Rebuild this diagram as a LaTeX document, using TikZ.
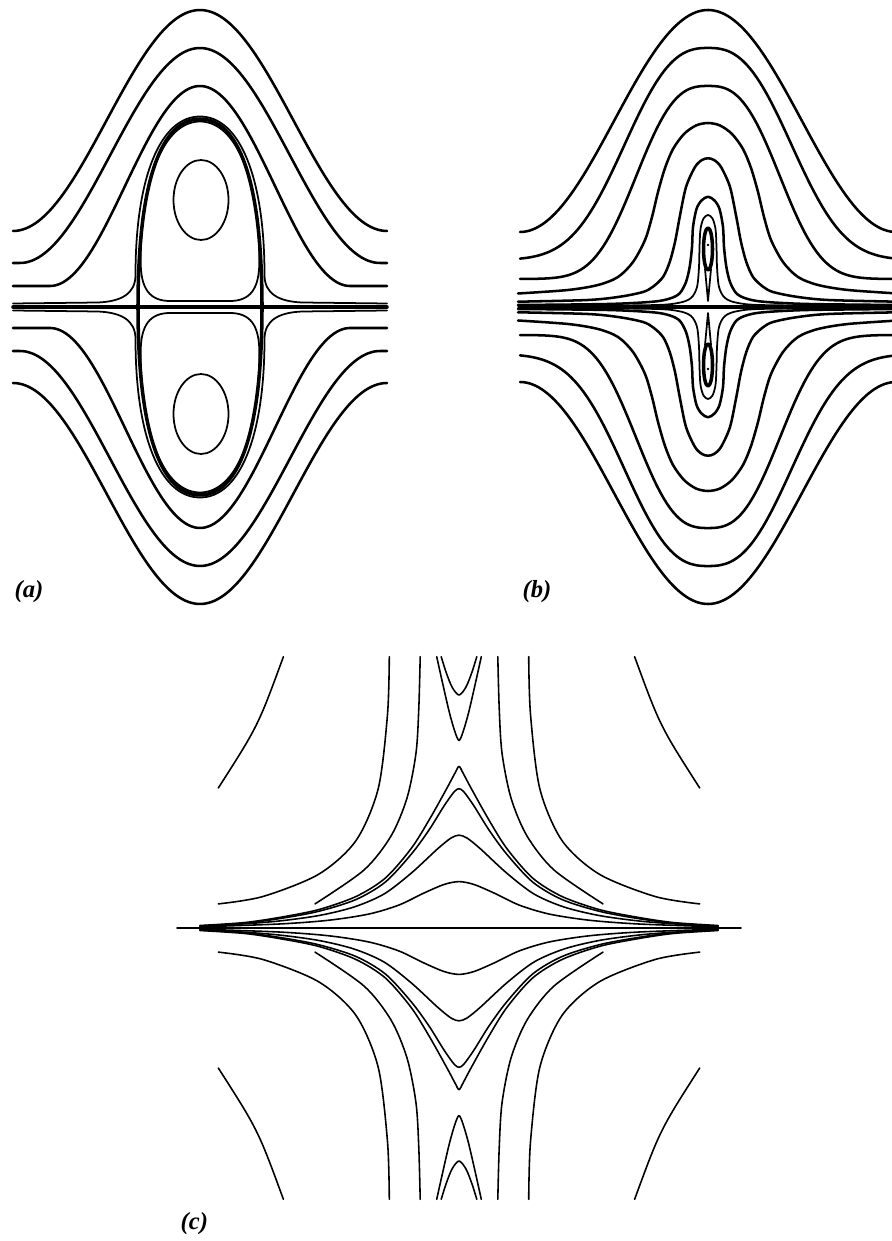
\documentclass[tikz,border=0pt]{standalone}
\usepackage{fontspec}
\setmainfont{Liberation Serif}
\tikzset{
 declare function={
   cbump(\xx,\LL)=(abs(\xx)<\LL)*(1+cos((180/(\LL))*(\xx)))/2;
   sgbump(\xx,\ww,\nn)=exp(0-(min((abs(\xx)+0.01)/(\ww),4))^(\nn));
 },
 sl/.style={line width=0.72pt},
 slt/.style={line width=0.5pt},
 sep/.style={line width=1pt},
 cl/.style={line width=0.45pt},
 lab/.style={font=\bfseries\itshape\fontsize{7}{8}\selectfont, inner sep=0pt, anchor=west}
}
% upper half of panel (a), local coords (u,d)
\newcommand\halfA{%
 \draw[sl] plot[domain=-187:187,samples=120] (\x,{76+221*cbump(\x,187)});
 \draw[sl] plot[domain=-187:187,samples=120] (\x,{44+215*cbump(\x,180)});
 \draw[sl] plot[domain=-187:187,samples=120] (\x,{21+200*cbump(\x,150)});
 \draw[sep] (-62,0) .. controls (-62,128) and (-38,188) .. (0,188) .. controls (38,188) and (62,128) .. (62,0);
 \draw[slt] (-187,3.5) -- (-102,4.5) .. controls (-79,5.5) and (-64.5,13) .. (-64.5,32) .. controls (-64.5,130) and (-39.5,190.5) .. (0,190.5) .. controls (39.5,190.5) and (64.5,130) .. (64.5,32) .. controls (64.5,13) and (79,5.5) .. (102,4.5) -- (187,3.5);
 \draw[slt] (-30,6) .. controls (-50,6) and (-59.3,18) .. (-59.3,45) .. controls (-59.3,126) and (-36.5,185.5) .. (0,185.5) .. controls (36.5,185.5) and (59.3,126) .. (59.3,45) .. controls (59.3,18) and (50,6) .. (30,6) -- cycle;
 \draw[slt] (1,107) ellipse [x radius=27.5, y radius=40];
}
% upper half of panel (b)
\newcommand\halfB{%
 \draw[sl] plot[domain=-188:192,samples=120] (\x,{75+222*cbump(\x,188)});
 \draw[sl] plot[domain=-188:192,samples=120] (\x,{47+212*sgbump(\x,101,2.6)});
 \draw[sl] plot[domain=-188:192,samples=120] (\x,{28+193*sgbump(\x,85,2.75)});
 \draw[sl] plot[smooth] coordinates {(-190,13.5) (-140,17) (-110,22) (-90,30) (-75,45) (-63,67) (-56,90) (-50,115) (-43,139) (-35,158) (-24,173) (-12,181.5) (0,184) (12,181.5) (24,173) (35,158) (43,139) (50,115) (56,90) (63,67) (75,45) (90,30) (110,22) (140,17) (190,13.5)};
 \draw[sl] plot[smooth] coordinates {(-190,5.3) (-120,7) (-88,10.3) (-65,15) (-55,20.3) (-45,30) (-38.3,45) (-33,65) (-28.3,90) (-22,120) (-13,140) (-6,147) (0,148.7) (6,147) (13,140) (22,120) (28.3,90) (33,65) (38.3,45) (45,30) (55,20.3) (65,15) (88,10.3) (120,7) (190,5.3)};
 \draw[sl] plot[smooth] coordinates {(-190,2) (-100,3) (-55,5.3) (-38,8.5) (-28.3,13.7) (-22,25) (-18.3,40.3) (-16,60) (-15,80) (-11.5,98) (-6.5,106.5) (0,110.3) (6.5,106.5) (11.5,98) (15,80) (16,60) (18.3,40.3) (22,25) (28.3,13.7) (38,8.5) (55,5.3) (100,3) (190,2)};
 \draw[slt] plot[smooth] coordinates {(-190,1) (-60,1.8) (-30,4) (-17,9) (-11,20) (-9,40) (-8.5,60) (-7.5,78) (-4.5,88.5) (0,92) (4.5,88.5) (7.5,78) (8.5,60) (9,40) (11,20) (17,9) (30,4) (60,1.8) (190,1)};
 \draw[sep] (0,58) ellipse [x radius=4.5, y radius=21];
 \fill (0,62) circle (1.3);
 \draw[slt] (-3,38) -- (0,6) -- (3,38);
}
% upper half of panel (c)
\newcommand\halfC{%
 \draw[cl] (-175.6,271.3) .. controls (-201,202) .. (-240.7,140);
 \draw[cl] (175.6,271.3) .. controls (201,202) .. (240.7,140);
 \draw[cl] plot[smooth] coordinates {(-69.7,271.3) (-71.5,213.7) (-80.8,139.3) (-103.1,87.3) (-140.3,53.8) (-196.1,31.5) (-240.7,24.1)};
 \draw[cl] plot[smooth] coordinates {(69.7,271.3) (71.5,213.7) (80.8,139.3) (103.1,87.3) (140.3,53.8) (196.1,31.5) (240.7,24.1)};
 \draw[cl] plot[smooth] coordinates {(-38.8,271.3) (-40.2,220) (-43,175) (-52,130) (-68,92) (-95,58) (-144,24.1)};
 \draw[cl] plot[smooth] coordinates {(38.8,271.3) (40.2,220) (43,175) (52,130) (68,92) (95,58) (144,24.1)};
 \draw[cl] plot[smooth] coordinates {(-22.3,271.3) (-16,243) (-9.5,215) (-4,196) (0,187.6) (4,196) (9.5,215) (16,243) (22.3,271.3)};
 \draw[cl] plot[smooth] coordinates {(-17.8,271.3) (-13,256) (-7,241) (0,233) (7,241) (13,256) (17.8,271.3)};
 \draw[cl] plot[smooth] coordinates {(-259,2.5) (-214,5.5) (-177,11) (-140,18.5) (-103,31.5) (-73.6,50) (-47.6,79.8) (-29,109.6) (-12,140) (-4,155) (0,161.6) (4,155) (12,140) (29,109.6) (47.6,79.8) (73.6,50) (103,31.5) (140,18.5) (177,11) (214,5.5) (259,2.5)};
 \draw[cl] plot[smooth] coordinates {(-259,2) (-214,4.8) (-177,9.8) (-140,16.8) (-103,28.5) (-73.6,46) (-47.6,74) (-30,98) (-15,122) (-5,136) (0,139.3) (5,136) (15,122) (30,98) (47.6,74) (73.6,46) (103,28.5) (140,16.8) (177,9.8) (214,4.8) (259,2)};
 \draw[cl] plot[smooth] coordinates {(-259,1.8) (-220,3.8) (-180,7) (-140,12.5) (-105,21) (-75,34) (-47.6,55) (-21.6,79) (-8,90) (0,92.8) (8,90) (21.6,79) (47.6,55) (75,34) (105,21) (140,12.5) (180,7) (220,3.8) (259,1.8)};
 \draw[cl] plot[smooth] coordinates {(-259,1.2) (-180,4) (-130,7.8) (-90,14) (-60,23) (-35,35) (-15,43.5) (0,46.4) (15,43.5) (35,35) (60,23) (90,14) (130,7.8) (180,4) (259,1.2)};
}
\begin{document}
\begin{tikzpicture}[x=0.1mm,y=-0.1mm,line cap=round,line join=round]
\useasboundingbox (0,0) rectangle (892,1241);
\clip (0,0) rectangle (892,1241);
% panel (a)
\begin{scope}[shift={(200,307)},yscale=-1] \halfA \end{scope}
\begin{scope}[shift={(200,307)}] \halfA \end{scope}
\draw[sep] (13,307) -- (387,307);
% panel (b)
\begin{scope}[shift={(708,307)},yscale=-1] \halfB \end{scope}
\begin{scope}[shift={(708,307)}] \halfB \end{scope}
\draw[sep] (520,307) -- (900,307);
% panel (c)
\begin{scope}[shift={(459,928)},yscale=-1] \halfC \end{scope}
\begin{scope}[shift={(459,928)}] \halfC \end{scope}
\draw[cl] (177,928) -- (741,928);
% labels
\node[lab] (la) at (14,592) {(a)};
\node[lab] (lb) at (522,592) {(b)};
\node[lab] (lc) at (180,1224) {(c)};
\end{tikzpicture}
\end{document}
